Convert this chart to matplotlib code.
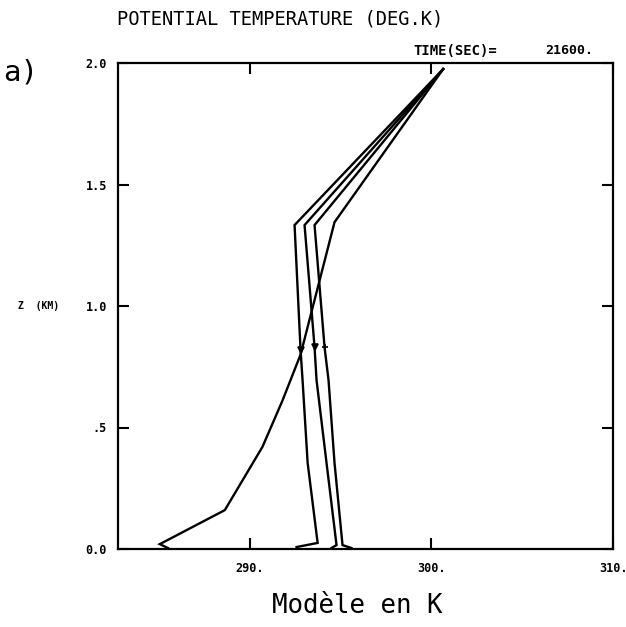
import matplotlib
matplotlib.use("Agg")
from matplotlib import pyplot as plt

# profiles of potential temperature (K) against height (km)
theta_1 = [285.5, 285.05, 288.63, 290.7, 291.8, 292.8, 294.67, 300.65]
z_1 = [0.004, 0.02, 0.16, 0.42, 0.61, 0.80, 1.345, 1.975]

theta_2 = [292.58, 293.74, 293.19, 292.91, 292.8, 292.47, 300.65]
z_2 = [0.008, 0.025, 0.354, 0.695, 0.819, 1.333, 1.975]

theta_3 = [294.5, 294.78, 294.23, 293.68, 293.57, 293.02, 300.65]
z_3 = [0.004, 0.016, 0.354, 0.695, 0.831, 1.333, 1.975]

theta_4 = [295.6, 295.11, 294.67, 294.34, 294.12, 293.57, 300.65]
z_4 = [0.004, 0.016, 0.354, 0.695, 0.831, 1.333, 1.975]

# little symbols on the profiles
mark_theta = [292.8, 293.57, 294.12]
mark_z = [0.819, 0.831, 0.831]
mark_style = ['v', 'v', '+']

x_ticks = [290, 300, 310]
x_labels = ['290.', '300.', '310.']
y_ticks = [0.0, 0.5, 1.0, 1.5, 2.0]
y_labels = ['0.0', '.5', '1.0', '1.5', '2.0']

W, H = 626, 627
fig = plt.figure(figsize=(W / 100, H / 100), dpi=100)
ax = fig.add_axes([118 / W, 78 / H, 495 / W, 486 / H])

for th, z in [(theta_1, z_1), (theta_2, z_2), (theta_3, z_3), (theta_4, z_4)]:
    ax.plot(th, z, color='black', lw=1.7, solid_joinstyle='miter')

for i in range(len(mark_theta)):
    ax.plot(mark_theta[i], mark_z[i], marker=mark_style[i], color='black',
            ms=4, mew=1.2)

ax.set_xlim(282.75, 310)
ax.set_ylim(0, 2.0)

mono = 'DejaVu Sans Mono'
ax.set_xticks(x_ticks)
ax.set_xticklabels(x_labels, family=mono, weight='bold', fontsize=8.5)
ax.set_yticks(y_ticks)
ax.set_yticklabels(y_labels, family=mono, weight='bold', fontsize=8.5)
ax.tick_params(axis='both', direction='in', length=8, width=1.5,
               top=True, right=True)
ax.tick_params(axis='x', pad=9)
ax.tick_params(axis='y', pad=8)
for s in ax.spines.values():
    s.set_linewidth(1.6)

fig.text(117 / W, 1 - 19 / H, 'POTENTIAL TEMPERATURE (DEG.K)', ha='left',
         va='center', family=mono, fontsize=13.5)
fig.text(413 / W, 1 - 51 / H, 'TIME(SEC)=', ha='left', va='center',
         family=mono, weight='bold', fontsize=10)
fig.text(593 / W, 1 - 51 / H, '21600.', ha='right', va='center',
         family=mono, weight='bold', fontsize=9.5)
fig.text(21 / W, 1 - 72 / H, 'a)', ha='center', va='center',
         family=mono, fontsize=21)
fig.text(18 / W, 1 - 306 / H, 'Z  (KM)', ha='left', va='center',
         family=mono, weight='bold', fontsize=7)
fig.text(357 / W, 1 - 606 / H, 'Modèle en K', ha='center', va='center',
         family=mono, fontsize=18.5)

fig.savefig('out.png', dpi=100)
